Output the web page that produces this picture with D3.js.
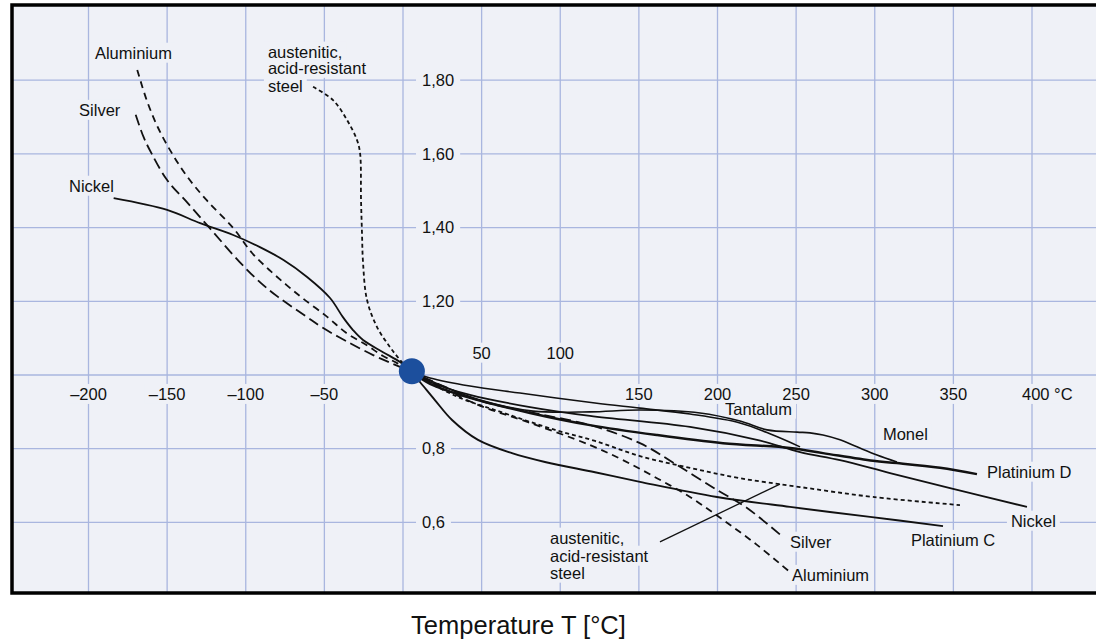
<!DOCTYPE html>
<html><head><meta charset="utf-8">
<script src="https://cdn.jsdelivr.net/npm/d3@7/dist/d3.min.js"></script>
<style>
html,body{margin:0;padding:0;background:#fff;}
svg{display:block;font-family:"Liberation Sans",Arial,Helvetica,sans-serif;}
</style></head>
<body>
<svg id="chart" width="1096" height="640"></svg>
<script>
// ---------- data ----------
const gridX = [-200,-150,-100,-50,0,50,100,150,200,250,300,350,400];
const gridY = [0.6,0.8,1.0,1.2,1.4,1.6,1.8];
const xTickValues = [-200,-150,-100,-50,150,200,250,300,350];
const xTickLabels = ["–200","–150","–100","–50","150","200","250","300","350"];
const xTickUpperValues = [50,100];
const xTickUpperLabels = ["50","100"];
const yTickValues = [1.8,1.6,1.4,1.2,0.8,0.6];
const yTickLabels = ["1,80","1,60","1,40","1,20","0,8","0,6"];
const refPoint = [5,1.01];

const aluminium = [[-169,1.828],[-163,1.746],[-156,1.673],[-147,1.602],[-137,1.537],[-125,1.475],[-108,1.399],[-96,1.331],[-85,1.285],[-74,1.244],[-64,1.209],[-48,1.157],[-36,1.114],[-23,1.081],[-13,1.052],[-4,1.033],[5,1.01],[14,0.989],[47.7,0.919],[79.5,0.872],[118.9,0.81],[139.9,0.769],[161.5,0.72],[182.5,0.669],[203.5,0.607],[225.1,0.539],[246.1,0.465]];
const silver = [[-170,1.706],[-165,1.646],[-160,1.602],[-150,1.529],[-137,1.467],[-123,1.399],[-104,1.307],[-91,1.252],[-79.5,1.212],[-61,1.157],[-51,1.128],[-34,1.087],[-19,1.054],[-8,1.033],[5,1.01],[14,0.992],[47.7,0.932],[79.5,0.9],[118.9,0.864],[150.7,0.815],[174.2,0.756],[199.7,0.688],[218.8,0.639],[241.7,0.56]];
const nickel = [[-184,1.48],[-150,1.448],[-129,1.412],[-108,1.38],[-91,1.347],[-76,1.312],[-61,1.266],[-46.4,1.209],[-38.2,1.157],[-31.8,1.122],[-25.4,1.095],[-12.7,1.062],[-1.9,1.035],[5,1.01],[17.2,0.981],[42.6,0.946],[80.8,0.913],[118.9,0.889],[182.5,0.859],[225.1,0.824],[252.5,0.791],[277.9,0.769],[309.7,0.734],[347.9,0.693],[396.8,0.642]];
const steel = [[-57.2,1.782],[-44.5,1.746],[-35.6,1.692],[-29.3,1.638],[-27.3,1.602],[-26.7,1.475],[-26.1,1.388],[-25.4,1.304],[-22.9,1.204],[-16.5,1.13],[-8.3,1.076],[-1.9,1.041],[5,1.01],[14,0.986],[36.2,0.938],[58.5,0.905],[96.7,0.851],[122.1,0.821],[150.7,0.78],[182.5,0.748],[214.3,0.72],[252.5,0.696],[298.9,0.669],[354.2,0.647]];
const tantalum = [[5,1.01],[17.2,0.992],[42.6,0.97],[74.4,0.951],[122.1,0.924],[150.7,0.91],[182.5,0.894],[214.3,0.87],[235.3,0.837],[252.5,0.805]];
const monel = [[5,1.01],[23.5,0.973],[49,0.932],[82.7,0.902],[118.9,0.9],[150.7,0.905],[188.9,0.897],[214.3,0.875],[231.5,0.851],[250.6,0.845],[258.8,0.843],[267.1,0.837],[277.9,0.824],[288.7,0.805],[301.4,0.783],[314.1,0.764]];
const platinumD = [[5,1.01],[17.2,0.976],[42.6,0.938],[80.8,0.897],[118.9,0.864],[161.5,0.837],[203.5,0.815],[246.1,0.802],[267.1,0.788],[298.9,0.767],[314.1,0.761],[341.5,0.748],[365,0.731]];
const platinumC = [[5,1.01],[10.8,0.981],[20.3,0.932],[31.2,0.878],[47.7,0.824],[69.3,0.788],[90.3,0.764],[122.1,0.736],[150.7,0.71],[199.7,0.669],[246.1,0.642],[297,0.615],[343.4,0.59]];
const steelLeader = [[163.4,0.547],[239.7,0.704]];

// labels anchored in data coordinates (left edge, vertical centre)
const labelTexts = ["Aluminium","austenitic,","acid-resistant","steel","Silver","Nickel","Tantalum","Monel","Platinium D","Nickel","Platinium C","Silver","Aluminium","austenitic,","acid-resistant","steel"];
const labelT = [-195.9,-85.9,-85.9,-85.9,-206,-212.4,204.8,305.2,371.4,386.6,323,246.1,247.4,93.5,93.5,93.5];
const labelV = [1.874,1.877,1.833,1.784,1.719,1.513,0.908,0.84,0.737,0.604,0.552,0.547,0.457,0.558,0.509,0.463];

// ---------- layout ----------
const svg = d3.select("#chart");
const frame = {left:12, top:5, right:1100, bottom:593};
const x = d3.scaleLinear().domain([0,400]).range([403,1032]);
const y = d3.scaleLinear().domain([1,0.6]).range([375,522.4]);
const bg = "#eff1f7", gridCol = "#a9b6df";

svg.append("rect").attr("x",frame.left).attr("y",frame.top)
  .attr("width",frame.right-frame.left).attr("height",frame.bottom-frame.top).attr("fill",bg);

const g = svg.append("g");
g.selectAll("line.vx").data(gridX).join("line")
  .attr("x1",d=>x(d)).attr("x2",d=>x(d)).attr("y1",frame.top).attr("y2",frame.bottom)
  .attr("stroke",gridCol).attr("stroke-width",1.3);
g.selectAll("line.hy").data(gridY).join("line")
  .attr("y1",d=>y(d)).attr("y2",d=>y(d)).attr("x1",frame.left).attr("x2",frame.right)
  .attr("stroke",gridCol).attr("stroke-width",1.3);

const bgLayer = svg.append("g");
const lineLayer = svg.append("g");
const textLayer = svg.append("g").attr("font-size","16.5px").attr("fill","#111");

function addText(tx, ty, str, anchor, pad){
  const t = textLayer.append("text").attr("x",tx).attr("y",ty).attr("dy","0.35em")
    .attr("text-anchor",anchor).text(str);
  const b = t.node().getBBox();
  bgLayer.append("rect").attr("x",b.x-pad).attr("y",b.y-1).attr("width",b.width+2*pad)
    .attr("height",b.height+2).attr("fill",bg);
  return t;
}

// tick labels
xTickValues.forEach((v,i)=>addText(x(v), y(0.948), xTickLabels[i], "middle", 4));
xTickUpperValues.forEach((v,i)=>addText(x(v), y(1.06), xTickUpperLabels[i], "middle", 4));
addText(x(400)-10, y(0.948), "400 °C", "start", 4);
yTickValues.forEach((v,i)=>addText(x(12.1), y(v), yTickLabels[i], "start", 6));

// curve labels
labelTexts.forEach((s,i)=>addText(x(labelT[i]), y(labelV[i]), s, "start", 4));

// curves
const line = d3.line().x(d=>x(d[0])).y(d=>y(d[1])).curve(d3.curveCatmullRom.alpha(0.5));
const series = [
  {d:aluminium, w:1.8, dash:"7,5"},
  {d:silver, w:1.8, dash:"11,5"},
  {d:steel, w:1.8, dash:"4,3"},
  {d:nickel, w:1.8, dash:null},
  {d:tantalum, w:1.6, dash:null},
  {d:monel, w:1.6, dash:null},
  {d:platinumD, w:2.5, dash:null},
  {d:platinumC, w:1.9, dash:null}
];
series.forEach(s=>{
  lineLayer.append("path").attr("d",line(s.d)).attr("fill","none")
    .attr("stroke","#111").attr("stroke-width",s.w)
    .attr("stroke-dasharray",s.dash);
});
lineLayer.append("path").attr("d",d3.line().x(d=>x(d[0])).y(d=>y(d[1]))(steelLeader))
  .attr("fill","none").attr("stroke","#111").attr("stroke-width",1.3);

// reference point
svg.append("circle").attr("cx",x(refPoint[0])+1).attr("cy",y(refPoint[1])).attr("r",13).attr("fill","#1c4f9d");

// frame
svg.append("rect").attr("x",frame.left).attr("y",frame.top)
  .attr("width",frame.right-frame.left).attr("height",frame.bottom-frame.top)
  .attr("fill","none").attr("stroke","#000").attr("stroke-width",3.5);

// axis title
svg.append("text").attr("x",518.5).attr("y",625).attr("dy","0.35em").attr("text-anchor","middle")
  .attr("font-size","25.5px").attr("fill","#111")
  .text("Temperature T [°C]");
</script>
</body></html>
